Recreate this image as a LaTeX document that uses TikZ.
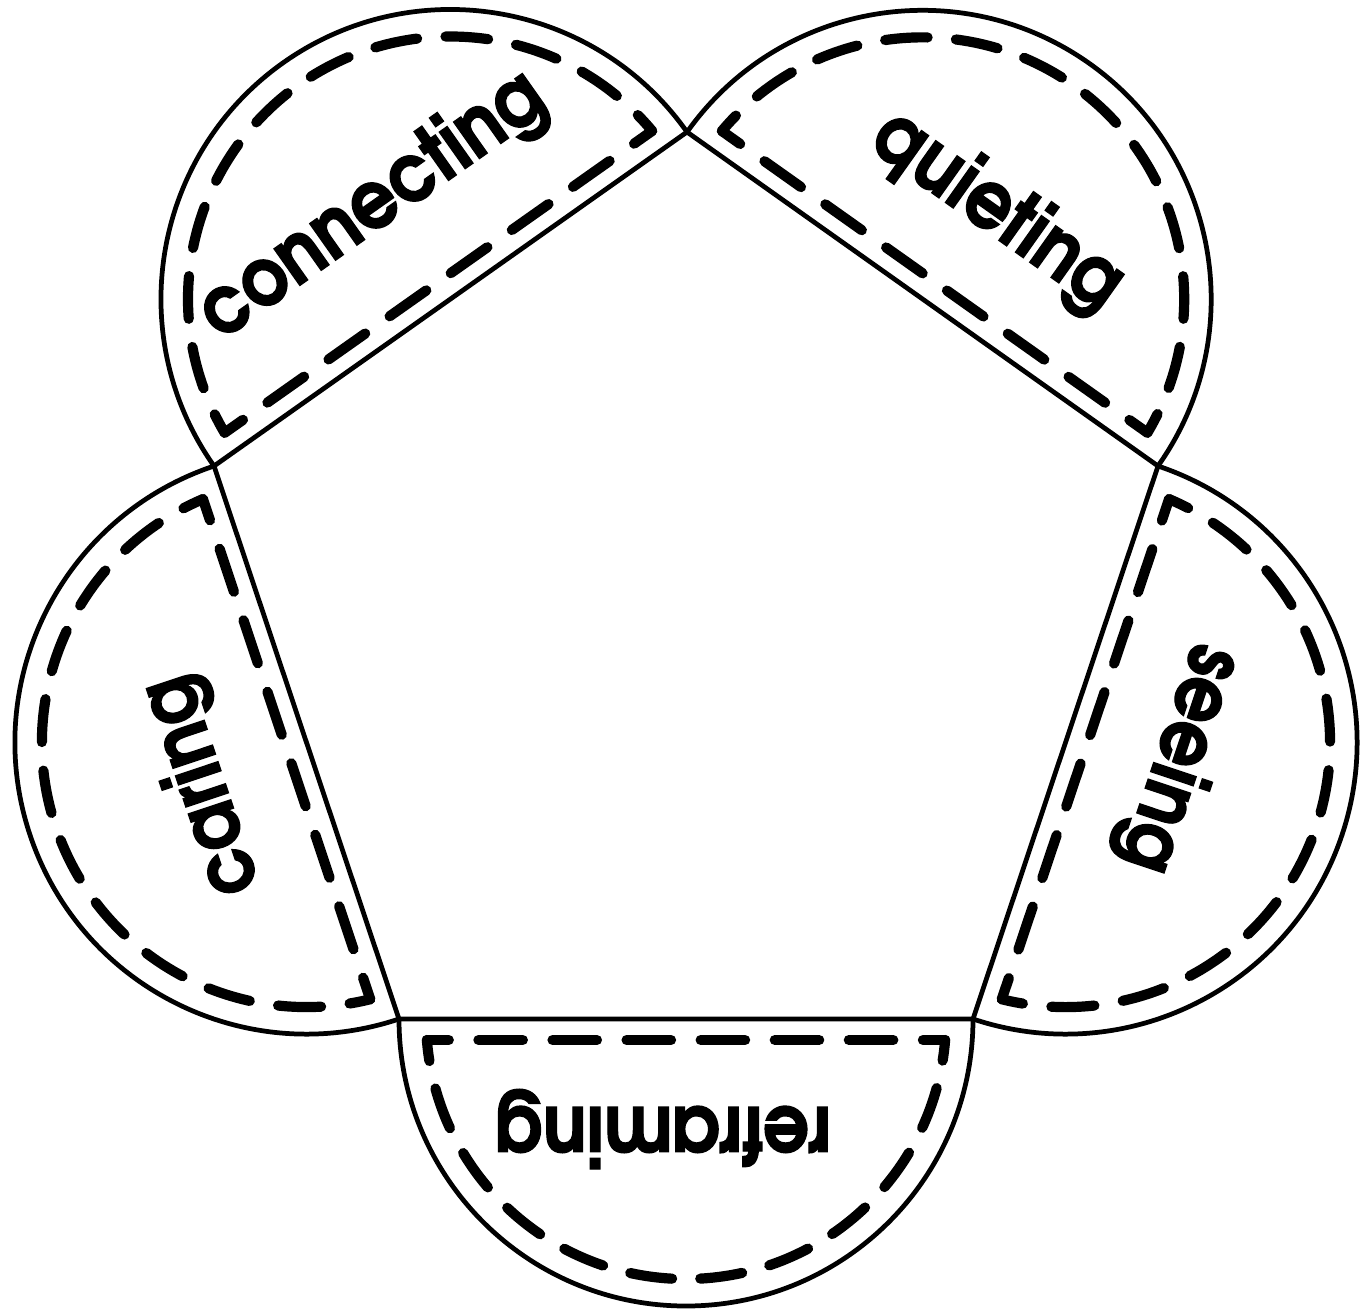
\documentclass[tikz,border=0pt]{standalone}
\usepackage{fontspec}
\usepackage{graphicx}
\newfontfamily\labfont{texgyreadventor-bold}[Extension=.otf, FakeBold=1.6]
\tikzset{
  rim/.style={draw=black, line width=1.35pt, line join=miter},
  stitch/.style={draw=black, line width=2.9pt, line cap=round},
  petaltext/.style={font=\labfont\fontsize{23}{23}\selectfont, anchor=base, inner sep=0pt, transform shape}
}
% #1 Ax #2 Ay #3 Bx #4 By #5 node name #6 text #7 u-offset #8 baseline offset
\newcommand\petal[8]{%
  \pgfmathsetmacro\pdx{#3-#1}%
  \pgfmathsetmacro\pdy{#4-#2}%
  \pgfmathsetmacro\prad{veclen(\pdx,\pdy)/2}%
  \pgfmathsetmacro\pang{atan2(\pdy,\pdx)}%
  \pgfmathsetmacro\pmx{(#1+#3)/2}%
  \pgfmathsetmacro\pmy{(#2+#4)/2}%
  \pgfmathsetmacro\pr{\prad-27}%
  \pgfmathsetmacro\pa{asin(21/\pr)}%
  \pgfmathsetmacro\pw{\pr*cos(\pa)}%
  \pgfmathsetmacro\pcP{(2*\pw/7)*0.284527}%
  \pgfmathsetmacro\pcD{0.6*\pcP}%
  \pgfmathsetmacro\pcG{\pcP-\pcD}%
  \pgfmathsetmacro\pcH{\pcD/2}%
  \pgfmathsetmacro\paL{\pr*((180-2*\pa)/180)*pi}%
  \pgfmathsetmacro\paP{(\paL/11)*0.284527}%
  \pgfmathsetmacro\paD{0.6*\paP}%
  \pgfmathsetmacro\paG{\paP-\paD}%
  \pgfmathsetmacro\paH{\paD/2}%
  \begin{scope}[shift={(\pmx,\pmy)}, rotate=\pang]
    \draw[rim] (-\prad,0) arc[start angle=180, end angle=0, radius=\prad];
    \draw[stitch, dash pattern=on \pcD pt off \pcG pt, dash phase=\pcH pt] (-\pw,21) -- (\pw,21);
    \draw[stitch, dash pattern=on \paD pt off \paG pt, dash phase=\paH pt] (\pw,21) arc[start angle=\pa, end angle=180-\pa, radius=\pr];
    \node[petaltext] (#5) at (#7,#8) {\scalebox{0.9}[1]{#6}};
  \end{scope}}
\begin{document}
\begin{tikzpicture}[x=0.01cm, y=0.01cm]
  \useasboundingbox (0,0) rectangle (1370,-1312);
  \fill[white] (0,0) rectangle (1370,-1312);
  \coordinate (T)  at (687,-132);
  \coordinate (UR) at (1158,-466);
  \coordinate (LR) at (973,-1019);
  \coordinate (LL) at (399,-1019);
  \coordinate (UL) at (214,-466);
  \draw[rim] (T) -- (UR) -- (LR) -- (LL) -- (UL) -- cycle;
  \petal{687}{-132}{1158}{-466}{quieting}{quieting}{10}{92}
  \petal{1158}{-466}{973}{-1019}{seeing}{seeing}{-21}{90}
  \petal{973}{-1019}{399}{-1019}{reframing}{reframing}{23}{88}
  \petal{399}{-1019}{214}{-466}{caring}{caring}{-8}{90}
  \petal{214}{-466}{687}{-132}{connecting}{connecting}{-10}{98}
\end{tikzpicture}
\end{document}
